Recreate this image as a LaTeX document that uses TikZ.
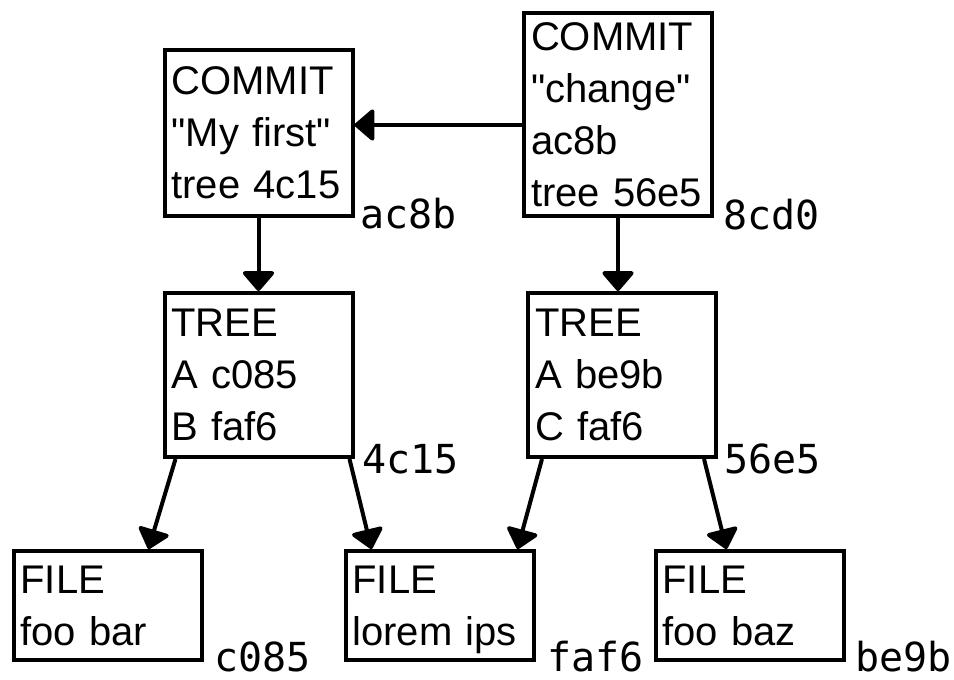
\documentclass[tikz,border=0pt]{standalone}
\usepackage{fontspec}
\setmainfont{Liberation Sans}[Ligatures=TeXOff]
\newfontfamily\hashfont{DejaVu Sans Mono}
\usetikzlibrary{arrows.meta}
\begin{document}
\begin{tikzpicture}[x=1pt,y=-1pt,
  objbox/.style={draw=black, line width=4pt, rectangle, align=left,
    text width=174pt, inner xsep=7pt, inner ysep=0pt,
    font=\fontsize{40}{52}\selectfont, anchor=center},
  hashlbl/.style={anchor=base west, inner sep=0pt, text depth=0pt,
    font=\hashfont\fontsize{40}{48}\selectfont},
  link/.style={line width=4pt, -{Triangle[length=21pt,width=35pt,round]}}
]
\useasboundingbox (0,0) rectangle (954,680);

\node[objbox, minimum height=166pt] (c1) at (258.5,133) {COMMIT\\"My first"\\tree 4c15};
\node[objbox, minimum height=203pt] (c2) at (618,114.5) {COMMIT\\"change"\\ac8b\\tree 56e5};
\node[objbox, minimum height=164pt] (t1) at (258.5,375) {TREE\\A c085\\B faf6};
\node[objbox, minimum height=164pt] (t2) at (622,375) {TREE\\A be9b\\C faf6};
\node[objbox, minimum height=109pt] (f1) at (107.5,605.5) {FILE\\foo bar};
\node[objbox, minimum height=109pt] (f2) at (439.5,605.5) {FILE\\lorem i\smash{p}s};
\node[objbox, minimum height=109pt] (f3) at (749.5,605.5) {FILE\\foo baz};

\node[hashlbl] (h1) at ([xshift=6pt,yshift=-10pt]c1.south east) {ac8b};
\node[hashlbl] (h2) at ([xshift=9pt,yshift=-11pt]c2.south east) {8cd0};
\node[hashlbl] (h3) at ([xshift=8pt,yshift=-14pt]t1.south east) {4c15};
\node[hashlbl] (h4) at ([xshift=6pt,yshift=-14pt]t2.south east) {56e5};
\node[hashlbl] (h5) at ([xshift=11pt,yshift=-9pt]f1.south east) {c085};
\node[hashlbl] (h6) at ([xshift=12pt,yshift=-9pt]f2.south east) {faf6};
\node[hashlbl] (h7) at ([xshift=10pt,yshift=-9pt]f3.south east) {be9b};

\draw[link] (c2.west |- 0,125) -- (c1.east |- 0,125);
\draw[link] (c1.south) -- (t1.north);
\draw[link] (c2.south) -- (c2.south |- t2.north);
\draw[link] ([xshift=13pt]t1.south west) -- ([xshift=137pt]f1.north west);
\draw[link] ([xshift=-5pt]t1.south east) -- ([xshift=28pt]f2.north west);
\draw[link] ([xshift=16pt]t2.south west) -- ([xshift=-18pt]f2.north east);
\draw[link] ([xshift=-14pt]t2.south east) -- ([xshift=73pt]f3.north west);
\end{tikzpicture}
\end{document}
